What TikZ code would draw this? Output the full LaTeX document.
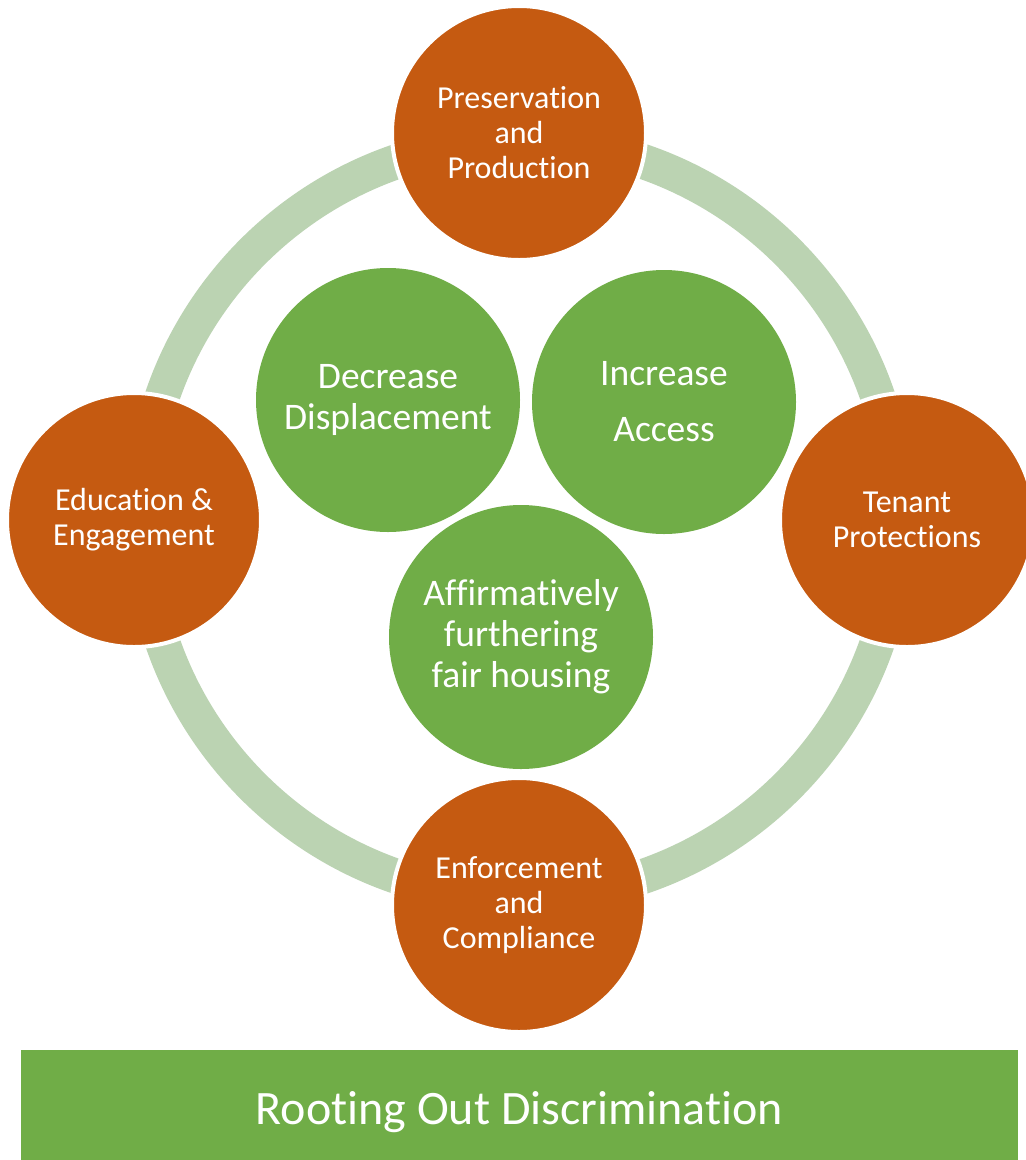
\documentclass[tikz,border=0pt]{standalone}
\usepackage{fontspec}
\setmainfont{Carlito}[Ligatures={NoCommon}]
\definecolor{orng}{HTML}{C55A11}
\definecolor{grn}{HTML}{70AD47}
\definecolor{ringc}{HTML}{BBD3B2}
\begin{document}
\begin{tikzpicture}[x=1pt,y=-1pt,
  outer/.style={circle,fill=orng,draw=white,line width=4pt,minimum size=254pt,inner sep=0pt,
    text=white,align=center,font=\fontsize{32}{35}\selectfont},
  inner/.style={circle,fill=grn,minimum size=264pt,inner sep=0pt,
    text=white,align=center,font=\fontsize{37.5}{41}\selectfont}]
\useasboundingbox (0,0) rectangle (1026,1160);
\coordinate (c) at (520,519);
\draw[ringc,line width=35pt] (c) circle[radius=378];
\node[outer] (top) at (519,133) {Preservation\\and\\Production};
\node[outer] (left) at (134,520) {Education \&\\Engagement};
\node[outer] (right) at (907,520) {Tenant\\Protections};
\node[outer] (bottom) at (519,905) {Enforcement\\and\\Compliance};
\node[inner] (dec) at (388,400) {Decrease\\Displacement};
\node[inner,font=\fontsize{37.5}{56}\selectfont] (inc) at (664,402) {Increase\\Access};
\node[inner] (aff) at (521,637) {Affirmatively\\furthering\\fair housing};
\node[fill=grn,minimum width=997pt,minimum height=124pt,inner sep=0pt,text=white,
  font=\fontsize{48}{56}\selectfont] (bar) at (519.5,1112) {Rooting Out Discrimination};
\end{tikzpicture}
\end{document}
